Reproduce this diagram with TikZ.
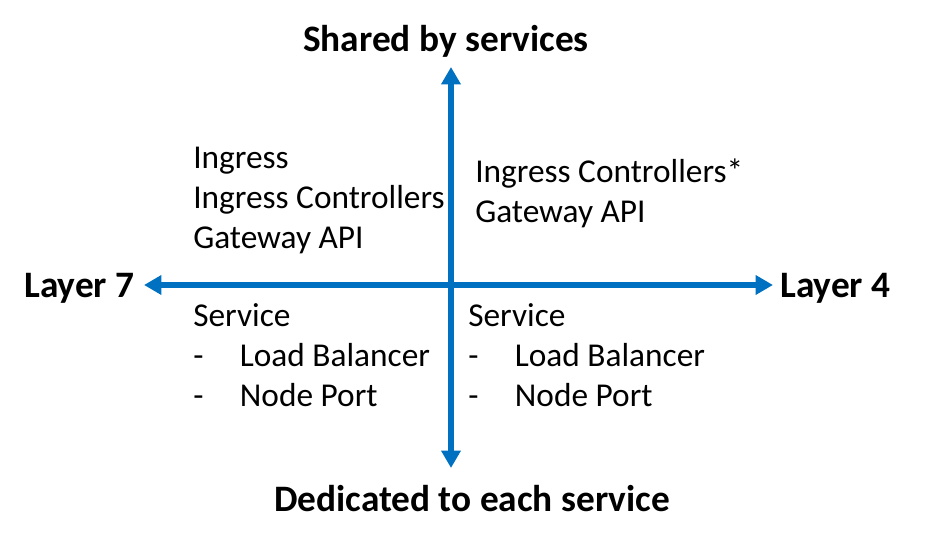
\documentclass[tikz,border=0pt]{standalone}
\usepackage{fontspec}
\setmainfont{Carlito}
\usepackage{tikz}
\usetikzlibrary{arrows.meta}
\definecolor{axisblue}{HTML}{0070C0}

\begin{document}
\begin{tikzpicture}[x=0.75pt,y=-0.75pt,
    axis/.style={draw=axisblue,line width=5pt,{Triangle[width=14pt,length=13pt]}-{Triangle[width=14pt,length=13pt]}},
    axislabel/.style={font=\fontsize{28}{33}\selectfont\bfseries,inner sep=0pt},
    entry/.style={font=\fontsize{25}{30}\selectfont,align=left,anchor=west,inner sep=0pt}]
    \useasboundingbox (0,0) rectangle (950,545);
    % axes
    \coordinate (top) at (451,67);
    \coordinate (bottom) at (451,468);
    \coordinate (left) at (144,285);
    \coordinate (right) at (773,285);
    \draw[axis] (bottom) -- (top);
    \draw[axis] (left) -- (right);
    % axis labels
    \node[axislabel] (shared) at (446,41) {Shared by services};
    \node[axislabel] (dedicated) at (472,499) {Dedicated to each service};
    \node[axislabel,anchor=west] (layer7) at (24,288) {Layer 7};
    \node[axislabel,anchor=west] (layer4) at (780,288) {Layer 4};
    % quadrants
    \node[entry] (q7shared) at (193,200) {Ingress\\Ingress Controllers\\Gateway API};
    \node[entry] (q4shared) at (475,193) {Ingress Controllers*\\Gateway API};
    \node[entry] (q7dedicated) at (193,355) {Service\\\makebox[35pt][l]{-}Load Balancer\\\makebox[35pt][l]{-}Node Port};
    \node[entry] (q4dedicated) at (468,355) {Service\\\makebox[35pt][l]{-}Load Balancer\\\makebox[35pt][l]{-}Node Port};
\end{tikzpicture}
\end{document}
